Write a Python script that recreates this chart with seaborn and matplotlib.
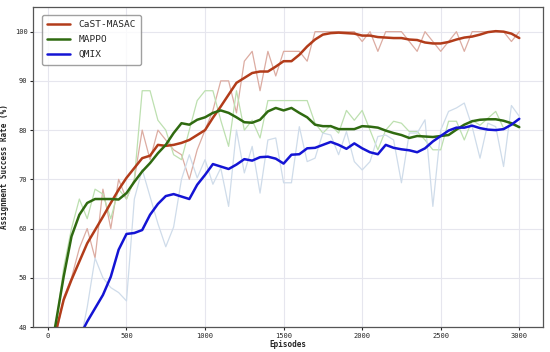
import numpy as np
import pandas as pd
import matplotlib
matplotlib.use("Agg")
import matplotlib.pyplot as plt
import seaborn as sns

# episodes sampled every 50
episodes = list(range(0, 3001, 50))

cast_smooth = [33, 39, 45.5, 49.6, 53.3, 57, 59.7, 62.4, 65.2, 67.9,
               70.3, 72.3, 74.3, 74.8, 77, 76.8, 77, 77.4, 78, 79,
               80, 82.5, 84.8, 87.2, 89.6, 90.6, 91.6, 91.9, 91.9, 92.9,
               94, 94, 95.3, 97, 98.4, 99.4, 99.7, 99.8, 99.7, 99.6,
               99.2, 99.2, 98.9, 98.8, 98.7, 98.7, 98.4, 98.3, 97.8, 97.6,
               97.6, 97.9, 98.4, 98.8, 99, 99.4, 99.9, 100.1, 100, 99.6,
               98.7]
cast_raw = [30, 38, 46, 50, 56, 60, 54, 68, 60, 70,
            66, 70, 80, 74, 80, 78, 76, 75, 70, 76,
            80, 84, 90, 90, 83.5, 94, 96, 88, 96, 91,
            96, 96, 96, 94, 100, 100, 100, 100, 100, 100,
            98, 100, 96, 100, 100, 100, 98, 96, 100, 98,
            96, 98, 100, 96, 100, 100, 100, 100, 100, 98,
            100]

mappo_smooth = [32, 40.8, 50.2, 58.4, 62.8, 65.2, 66, 66, 66, 65.9,
                67.2, 69.5, 71.6, 73.3, 75.3, 77, 79.4, 81.4, 81.1, 82.1,
                82.6, 83.5, 84, 83.5, 82.6, 81.6, 81.5, 82.1, 83.8, 84.5,
                84, 84.5, 83.5, 82.6, 81.1, 80.8, 80.8, 80.2, 80.2, 80.2,
                80.8, 80.7, 80.5, 79.9, 79.4, 79, 78.4, 78.8, 78.7, 78.6,
                78.8, 79, 80.1, 81.1, 81.8, 82.1, 82.2, 82.2, 81.9, 81.4,
                80.6]
mappo_raw = [30, 40, 52, 60, 66, 62, 68, 67, 62, 68,
             66, 70, 88, 88, 82, 80, 75, 74, 80, 86,
             88, 88, 82, 76.7, 88, 80, 82, 78.4, 86, 86,
             86, 86, 86, 86, 81.4, 79.4, 81, 79.4, 84, 82,
             84, 80, 76, 80, 81.8, 81.4, 79.7, 79.7, 78, 76,
             76, 81.8, 81.8, 78, 82, 81, 82.4, 83.8, 80.4, 81.1,
             80.6]

qmix_smooth = [25, 29, 32, 35, 38, 41.1, 43.8, 46.5, 50.2, 55.7,
               58.9, 59.1, 59.7, 62.8, 65, 66.6, 67, 66.5, 66, 68.9,
               70.9, 73.1, 72.6, 72.1, 73, 74.1, 73.8, 74.5, 74.6, 74.2,
               73.2, 75, 75.1, 76.3, 76.4, 77, 77.6, 77, 76.2, 77.3,
               76.3, 75.5, 75.1, 77, 76.4, 76.1, 75.9, 75.5, 76.3, 77.7,
               78.8, 79.9, 80.5, 80.5, 80.9, 80.4, 80.1, 80, 80.2, 81.1,
               82.3]
qmix_raw = [22, 26, 30, 34, 36, 44, 54, 50, 48, 47,
            45.3, 66, 72, 66.5, 61, 56.3, 60.3, 70, 75, 70.3,
            74, 69, 72.3, 64.5, 80, 71.3, 76.7, 67.2, 78, 78.4,
            69.3, 69.3, 80.7, 73.6, 74.3, 79.4, 79, 75, 79.7, 73.6,
            71.9, 73.6, 78.7, 79, 78, 69.3, 79.4, 79.4, 82.1, 64.5,
            80, 83.8, 84.5, 85.5, 80.7, 74.3, 81.4, 80.7, 72.6, 85,
            82.8]

methods = ["CaST-MASAC", "MAPPO", "QMIX"]
smooth_colors = ["#b23c1a", "#2f6a10", "#1414d4"]
raw_colors = ["#dcaca2", "#bde0b0", "#cfdcea"]

df_smooth = pd.DataFrame({
    "Episodes": episodes * 3,
    "Rate": cast_smooth + mappo_smooth + qmix_smooth,
    "Method": [m for m in methods for _ in episodes],
})
df_raw = pd.DataFrame({
    "Episodes": episodes * 3,
    "Rate": cast_raw + mappo_raw + qmix_raw,
    "Method": [m for m in methods for _ in episodes],
})

sns.set_style("whitegrid")
plt.rcParams["font.family"] = ["DejaVu Sans Mono"]

fig, ax = plt.subplots(figsize=(5.5, 3.52), dpi=100)
fig.subplots_adjust(left=0.06, right=0.987, top=0.98, bottom=0.071)

sns.lineplot(data=df_raw, x="Episodes", y="Rate", hue="Method",
             palette=raw_colors, linewidth=0.9, legend=False, ax=ax)
sns.lineplot(data=df_smooth, x="Episodes", y="Rate", hue="Method",
             palette=smooth_colors, linewidth=1.8, ax=ax)

ax.set_xlim(-95, 3150)
ax.set_ylim(40, 105)
ax.set_xticks([0, 500, 1000, 1500, 2000, 2500, 3000])
ax.set_yticks([40, 50, 60, 70, 80, 90, 100])
ax.tick_params(labelsize=5, length=2, pad=2, left=True, bottom=True)
ax.set_xlabel("Episodes", fontsize=5.5, fontweight="bold", labelpad=1)
ax.set_ylabel("Assignment Success Rate (%)", fontsize=5.5, fontweight="bold", labelpad=4)
ax.grid(True, color="#e6e6ee", linewidth=0.8)
for s in ax.spines.values():
    s.set_color("#555555")
    s.set_linewidth(0.9)

leg = ax.legend(loc="upper left", fontsize=6.8, frameon=True, handlelength=2.4,
                handletextpad=0.9, borderpad=0.55, labelspacing=0.65,
                bbox_to_anchor=(0.008, 0.99))
leg.get_frame().set_edgecolor("#888888")
for line in leg.get_lines():
    line.set_linewidth(1.8)

plt.savefig("out.png", dpi=100)
